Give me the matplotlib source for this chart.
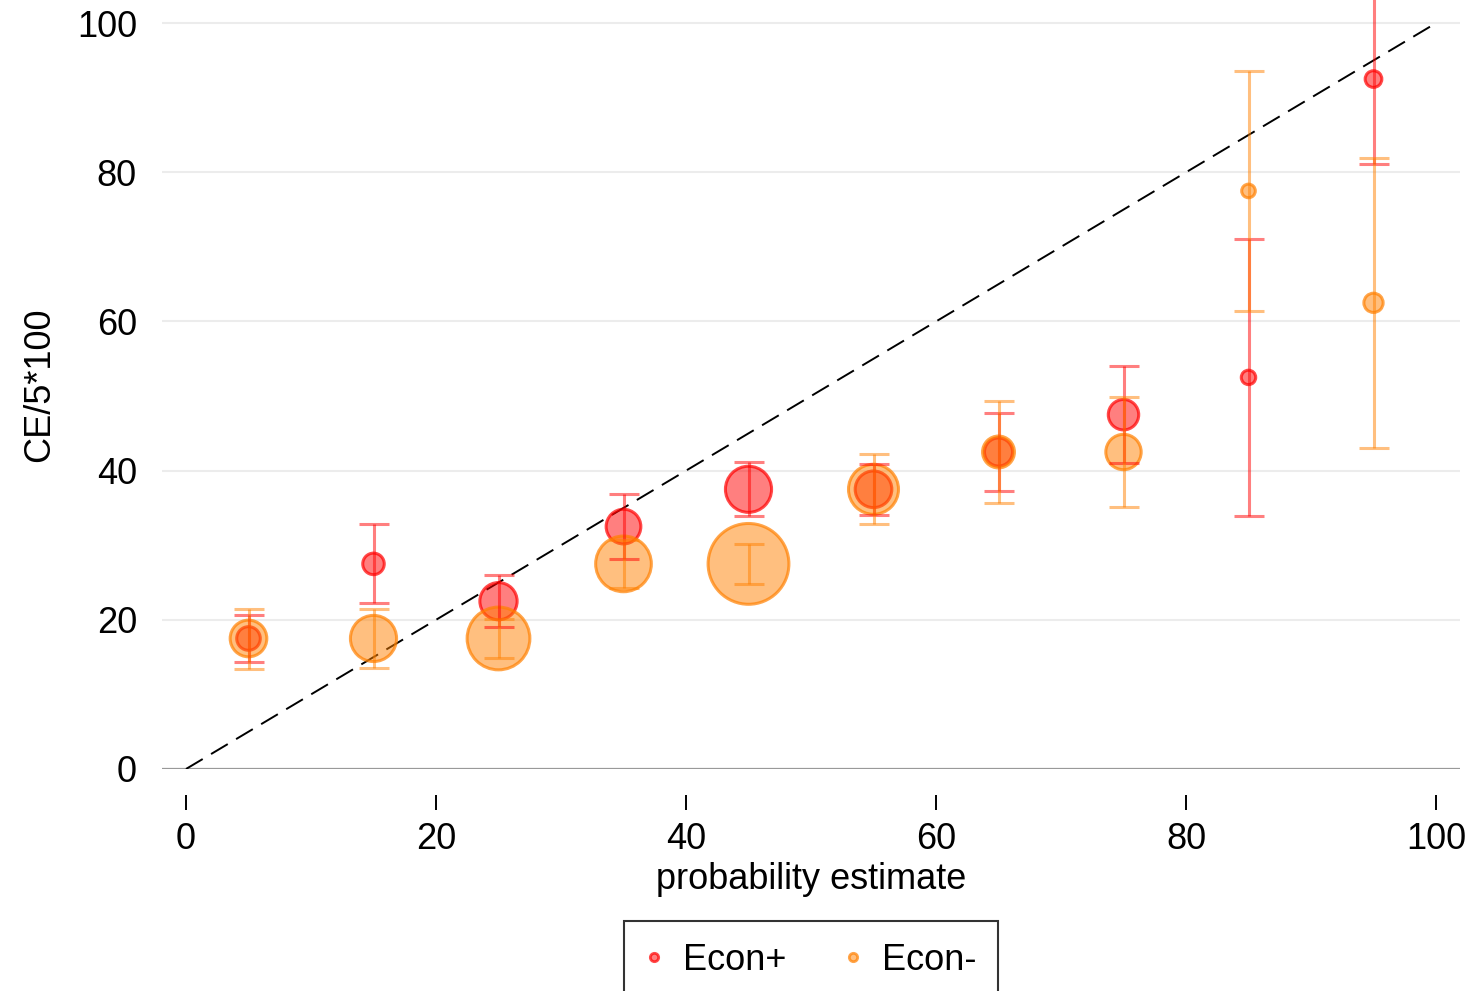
import numpy as np
import matplotlib.pyplot as plt

plt.rcParams['font.family'] = ['Liberation Sans', 'DejaVu Sans']

# probability-estimate bins
prob_bins = [5, 15, 25, 35, 45, 55, 65, 75, 85, 95]

# Econ+ : mean CE (scaled to 0-100), 95% CI, and number of obs per bin
econ_pos_mean = [17.5, 27.5, 22.5, 32.5, 37.5, 37.5, 42.5, 47.5, 52.5, 92.5]
econ_pos_lo = [14.3, 22.2, 19.0, 28.1, 33.9, 34.1, 37.3, 41.0, 33.9, 81.1]
econ_pos_hi = [20.7, 32.8, 26.0, 36.9, 41.1, 40.9, 47.7, 54.0, 71.1, 103.9]
econ_pos_n = [12, 10, 30, 26, 46, 29, 17, 20, 4.5, 6]

# Econ- : same layout
econ_neg_mean = [17.5, 17.5, 17.5, 27.5, 27.5, 37.5, 42.5, 42.5, 77.5, 62.5]
econ_neg_lo = [13.4, 13.6, 14.9, 24.3, 24.8, 32.8, 35.7, 35.1, 61.4, 43.1]
econ_neg_hi = [21.5, 21.4, 20.1, 30.7, 30.2, 42.2, 49.3, 49.9, 93.6, 81.9]
econ_neg_n = [29, 46, 85, 67, 141, 54, 22, 27, 4, 8]

RED = (1.0, 0.0, 0.0)
ORANGE = (1.0, 0.5, 0.0)
SIZE_K = 24  # points^2 per observation

fig = plt.figure(figsize=(14.75, 9.91), dpi=100)
ax = fig.add_axes([162 / 1475, 1 - 769 / 991, (1460 - 162) / 1475, 769 / 991])

ax.set_xlim(-1.92, 101.92)
ax.set_ylim(0, 103.1)

# grid and zero line
for yv in [20, 40, 60, 80, 100]:
    ax.axhline(yv, color='#ececec', lw=1.5, zorder=0)
ax.axhline(0, color='#999999', lw=1.6, zorder=1)

# 45 degree reference
ax.plot([0, 100], [0, 100], color='black', lw=1.4, dashes=(10, 5), zorder=2)


def draw_group(mean, lo, hi, n, color, label):
    x = np.array(prob_bins)
    m = np.array(mean)
    err = np.vstack([m - np.array(lo), np.array(hi) - m])
    ax.scatter(x, m, s=np.array(n) * SIZE_K, color=color + (0.5,),
               edgecolors=[color + (0.7,)], linewidths=2.2, zorder=3, label=label)
    ax.errorbar(x, m, yerr=err, fmt='none', ecolor=color + (0.5,),
                elinewidth=2.2, capsize=11, capthick=2.2, zorder=4)


draw_group(econ_pos_mean, econ_pos_lo, econ_pos_hi, econ_pos_n, RED, 'Econ+')
draw_group(econ_neg_mean, econ_neg_lo, econ_neg_hi, econ_neg_n, ORANGE, 'Econ-')

ax.set_xticks([0, 20, 40, 60, 80, 100])
ax.set_yticks([0, 20, 40, 60, 80, 100])
for s in ['top', 'right', 'left']:
    ax.spines[s].set_visible(False)
ax.spines['bottom'].set_position(('outward', 19))
ax.spines['bottom'].set_color('none')
ax.tick_params(axis='x', length=11, width=1.4, direction='out', pad=8,
               labelsize=26, color='black')
ax.tick_params(axis='y', length=0, pad=18, labelsize=26)

ax.set_xlabel('probability estimate', fontsize=26, labelpad=4)
ax.set_ylabel('CE/5*100', fontsize=26, labelpad=14)

leg_handles = [
    plt.Line2D([], [], ls='none', marker='o', markersize=6,
               markerfacecolor=RED + (0.5,), markeredgecolor=RED + (0.7,), markeredgewidth=2),
    plt.Line2D([], [], ls='none', marker='o', markersize=6,
               markerfacecolor=ORANGE + (0.5,), markeredgecolor=ORANGE + (0.7,), markeredgewidth=2),
]
leg = fig.legend(leg_handles, ['Econ+', 'Econ-'], loc='upper center',
                 bbox_to_anchor=(811 / 1475, 1 - 921 / 991), borderaxespad=0,
                 ncol=2, fontsize=26, frameon=True, fancybox=False, edgecolor='black',
                 handlelength=0.5, handletextpad=0.55, columnspacing=1.6, borderpad=0.6)
leg.get_frame().set_linewidth(1.5)

fig.savefig('out.png', dpi=100)
